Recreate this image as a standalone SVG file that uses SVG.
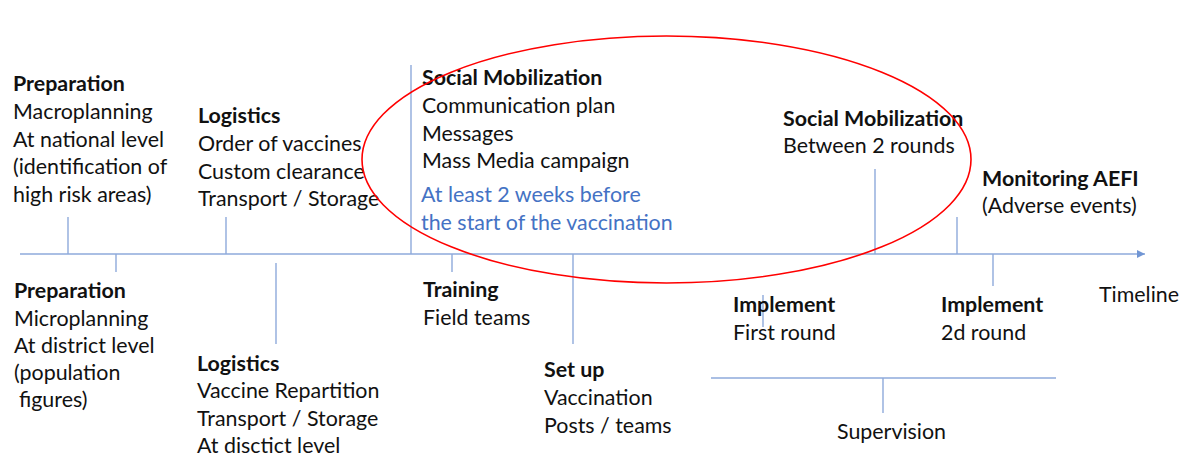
<svg xmlns="http://www.w3.org/2000/svg" width="1181" height="458" viewBox="0 0 1181 458">
  <style>
    text { font-family: Lato, "Liberation Sans", sans-serif; font-size: 21.4px; fill: #111; }
    .h { font-weight: bold; }
    .blue { fill: #4472c4; }
    .ln { stroke: #8eaadb; stroke-width: 1.4; fill: none; }
    .ring { stroke: #ff0000; stroke-width: 1.6; fill: none; }
  </style>
  <defs>
    <marker id="arr" viewBox="0 0 10 10" refX="10" refY="5" markerWidth="10" markerHeight="8" markerUnits="userSpaceOnUse" orient="auto">
      <path d="M0,0 L10,5 L0,10 z" fill="#7196d4"/>
    </marker>
  </defs>

  <!-- timeline axis and ticks -->
  <g id="connectors">
    <line class="ln" x1="20" y1="254" x2="1145" y2="254" marker-end="url(#arr)"/>
    <line class="ln" x1="68" y1="217" x2="68" y2="254"/>
    <line class="ln" x1="226" y1="217" x2="226" y2="254"/>
    <line class="ln" x1="116" y1="254" x2="116" y2="272"/>
    <line class="ln" x1="276" y1="263" x2="276" y2="344"/>
    <line class="ln" x1="411" y1="65" x2="411" y2="254"/>
    <line class="ln" x1="452" y1="254" x2="452" y2="272"/>
    <line class="ln" x1="573" y1="254" x2="573" y2="344"/>
    <line class="ln" x1="763" y1="295" x2="763" y2="327"/>
    <line class="ln" x1="875" y1="169" x2="875" y2="254"/>
    <line class="ln" x1="957" y1="217" x2="957" y2="254"/>
    <line class="ln" x1="993" y1="254" x2="993" y2="286"/>
    <line class="ln" x1="711" y1="378" x2="1056" y2="378"/>
    <line class="ln" x1="883" y1="378" x2="883" y2="413"/>
  </g>

  <g id="prep-macro">
    <text class="h" x="13" y="91">Preparation</text>
    <text x="13" y="119">Macroplanning</text>
    <text x="13" y="147">At national level</text>
    <text x="13" y="174">(identification of</text>
    <text x="13" y="202">high risk areas)</text>
  </g>

  <g id="logistics-order">
    <text class="h" x="198" y="123">Logistics</text>
    <text x="198" y="151">Order of vaccines</text>
    <text x="198" y="179">Custom clearance</text>
    <text x="198" y="206">Transport / Storage</text>
  </g>

  <g id="social-mob-1">
    <text class="h" x="422" y="85">Social Mobilization</text>
    <text x="422" y="113">Communication plan</text>
    <text x="422" y="141">Messages</text>
    <text x="422" y="168">Mass Media campaign</text>
    <text class="blue" x="421" y="202">At least 2 weeks before</text>
    <text class="blue" x="421" y="230">the start of the vaccination</text>
  </g>

  <g id="social-mob-2">
    <text class="h" x="783" y="126">Social Mobilization</text>
    <text x="783" y="153">Between 2 rounds</text>
  </g>

  <g id="monitoring">
    <text class="h" x="982" y="186">Monitoring AEFI</text>
    <text x="982" y="213">(Adverse events)</text>
  </g>

  <g id="timeline-label">
    <text x="1099" y="302">Timeline</text>
  </g>

  <g id="prep-micro">
    <text class="h" x="14" y="298">Preparation</text>
    <text x="14" y="326">Microplanning</text>
    <text x="14" y="353">At district level</text>
    <text x="14" y="380">(population</text>
    <text x="19" y="407">figures)</text>
  </g>

  <g id="logistics-district">
    <text class="h" x="197" y="371">Logistics</text>
    <text x="197" y="398">Vaccine Repartition</text>
    <text x="197" y="426">Transport / Storage</text>
    <text x="197" y="453">At disctict level</text>
  </g>

  <g id="training">
    <text class="h" x="423" y="297">Training</text>
    <text x="423" y="325">Field teams</text>
  </g>

  <g id="setup">
    <text class="h" x="544" y="377">Set up</text>
    <text x="544" y="405">Vaccination</text>
    <text x="544" y="433">Posts / teams</text>
  </g>

  <g id="implement-1">
    <text class="h" x="733" y="312">Implement</text>
    <text x="733" y="340">First round</text>
  </g>

  <g id="implement-2">
    <text class="h" x="941" y="312">Implement</text>
    <text x="941" y="340">2d round</text>
  </g>

  <g id="supervision">
    <text x="837" y="439">Supervision</text>
  </g>

  <!-- highlight ring round the social mobilization phase -->
  <g id="highlight">
    <ellipse class="ring" cx="666.5" cy="159.5" rx="304.5" ry="123.5"/>
  </g>
</svg>
